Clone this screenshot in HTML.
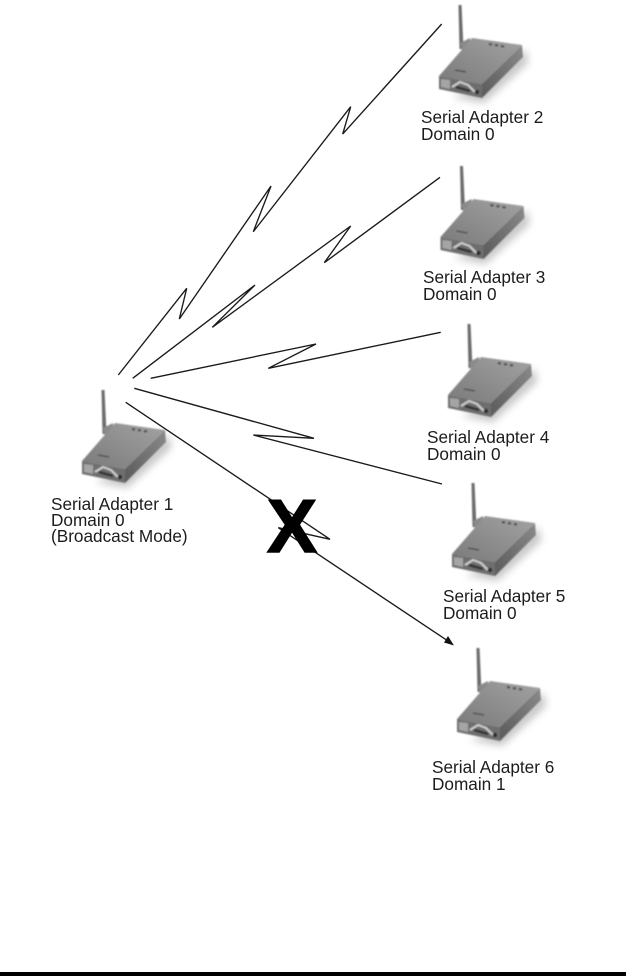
<!DOCTYPE html>
<html><head><meta charset="utf-8"><style>
html,body{margin:0;padding:0;background:#fff;width:626px;height:976px;overflow:hidden}
svg{display:block}
text{font-family:"Liberation Sans",sans-serif;font-size:17.2px;fill:#1c1c1c}
</style></head><body>
<svg width="626" height="976" viewBox="0 0 626 976" xmlns="http://www.w3.org/2000/svg">
<defs>
<linearGradient id="top" x1="0" y1="1" x2="1" y2="0"><stop offset="0" stop-color="#7a7a7a"/><stop offset=".5" stop-color="#8e8e8e"/><stop offset="1" stop-color="#a2a2a2"/></linearGradient>
<linearGradient id="side" x1="0" y1="1" x2="1" y2="0"><stop offset="0" stop-color="#5a5a5a"/><stop offset="1" stop-color="#8a8a8a"/></linearGradient>
<filter id="b1" x="-30%" y="-30%" width="160%" height="160%"><feGaussianBlur stdDeviation="0.8"/></filter>
<filter id="b4" x="-40%" y="-40%" width="180%" height="180%"><feGaussianBlur stdDeviation="4"/></filter>
<filter id="bt" x="-5%" y="-20%" width="110%" height="140%"><feGaussianBlur stdDeviation="0.35"/></filter>
<g id="dev">
<polygon points="-8,92 24,98 68,58 66,44 26,80" fill="#999" opacity=".55" filter="url(#b4)"/>
<g filter="url(#b1)">
<polygon points="-1.5,0 1.5,0 3.5,44 -0.5,44" fill="#6a6a6a"/>
<polygon points="0,38 10,33 10,42 2,46" fill="#8a8a8a"/>
<polygon points="-21,71 -14,63 12,33 62,40 22,79" fill="url(#top)"/>
<polygon points="62,40 63,52 22,93 22,79" fill="url(#side)"/>
<polygon points="-21,71 22,79 22,93 -21,84" fill="#6e6e6e"/>
<polygon points="-19,74 -10,75 -10,84 -19,82" fill="#a5a5a5"/>
<path d="M-8,82 L0,77 L8,80 L15,87" stroke="#d0d0d0" stroke-width="2" fill="none"/>
<path d="M-4,82 L10,86" stroke="#333" stroke-width="2.5" fill="none"/>
<circle cx="17" cy="87" r="2.2" fill="#2a2a2a"/>
<path d="M29,39 l3,.6 M35,40 l3,.6 M41,41 l3,.6" stroke="#4a4a4a" stroke-width="2.2"/>
<path d="M-5,65 l11,2" stroke="#444" stroke-width="1.3"/>
</g>
</g>
</defs>
<rect width="626" height="976" fill="#fff"/>

<use href="#dev" x="103" y="390"/>
<use href="#dev" x="460" y="5"/>
<use href="#dev" x="461.5" y="166"/>
<use href="#dev" x="469" y="324"/>
<use href="#dev" x="473" y="483"/>
<use href="#dev" x="478" y="648"/>

<g fill="none" stroke="#1a1a1a" stroke-width="1.35" stroke-linejoin="miter">
<polyline points="118.3,375 186.7,288.3 179.3,319 271,186 253.3,231.7 350.7,106.7 342.7,134 441.7,24"/>
<polyline points="132.7,378.3 255,285 212.3,327.3 350.7,226 324.3,262.7 440,177.3"/>
<polyline points="150.7,378.3 316,344 268.3,368.3 440.7,332.3"/>
<polyline points="134.3,388.3 314,438.3 253.3,435 442,484"/>
<polyline points="125.7,402.3 330,539.3 278.3,527.7 448,641"/>
</g>
<polygon points="454,645.5 444,642.5 448,636" fill="#111"/>

<text x="267" y="552.2" style="font-size:75px;font-weight:bold;fill:#000;stroke:#000;stroke-width:1.5px">X</text>

<g filter="url(#bt)">
<text x="51" y="510">Serial Adapter 1</text><text x="51" y="526">Domain 0</text><text x="51" y="542">(Broadcast Mode)</text>
<text x="421" y="123">Serial Adapter 2</text><text x="421" y="140">Domain 0</text>
<text x="423" y="283">Serial Adapter 3</text><text x="423" y="300">Domain 0</text>
<text x="427" y="443">Serial Adapter 4</text><text x="427" y="460">Domain 0</text>
<text x="443" y="602">Serial Adapter 5</text><text x="443" y="619">Domain 0</text>
<text x="432" y="773">Serial Adapter 6</text><text x="432" y="790">Domain 1</text>
</g>

<rect x="0" y="972" width="626" height="4" fill="#000"/>
</svg>
</body></html>
